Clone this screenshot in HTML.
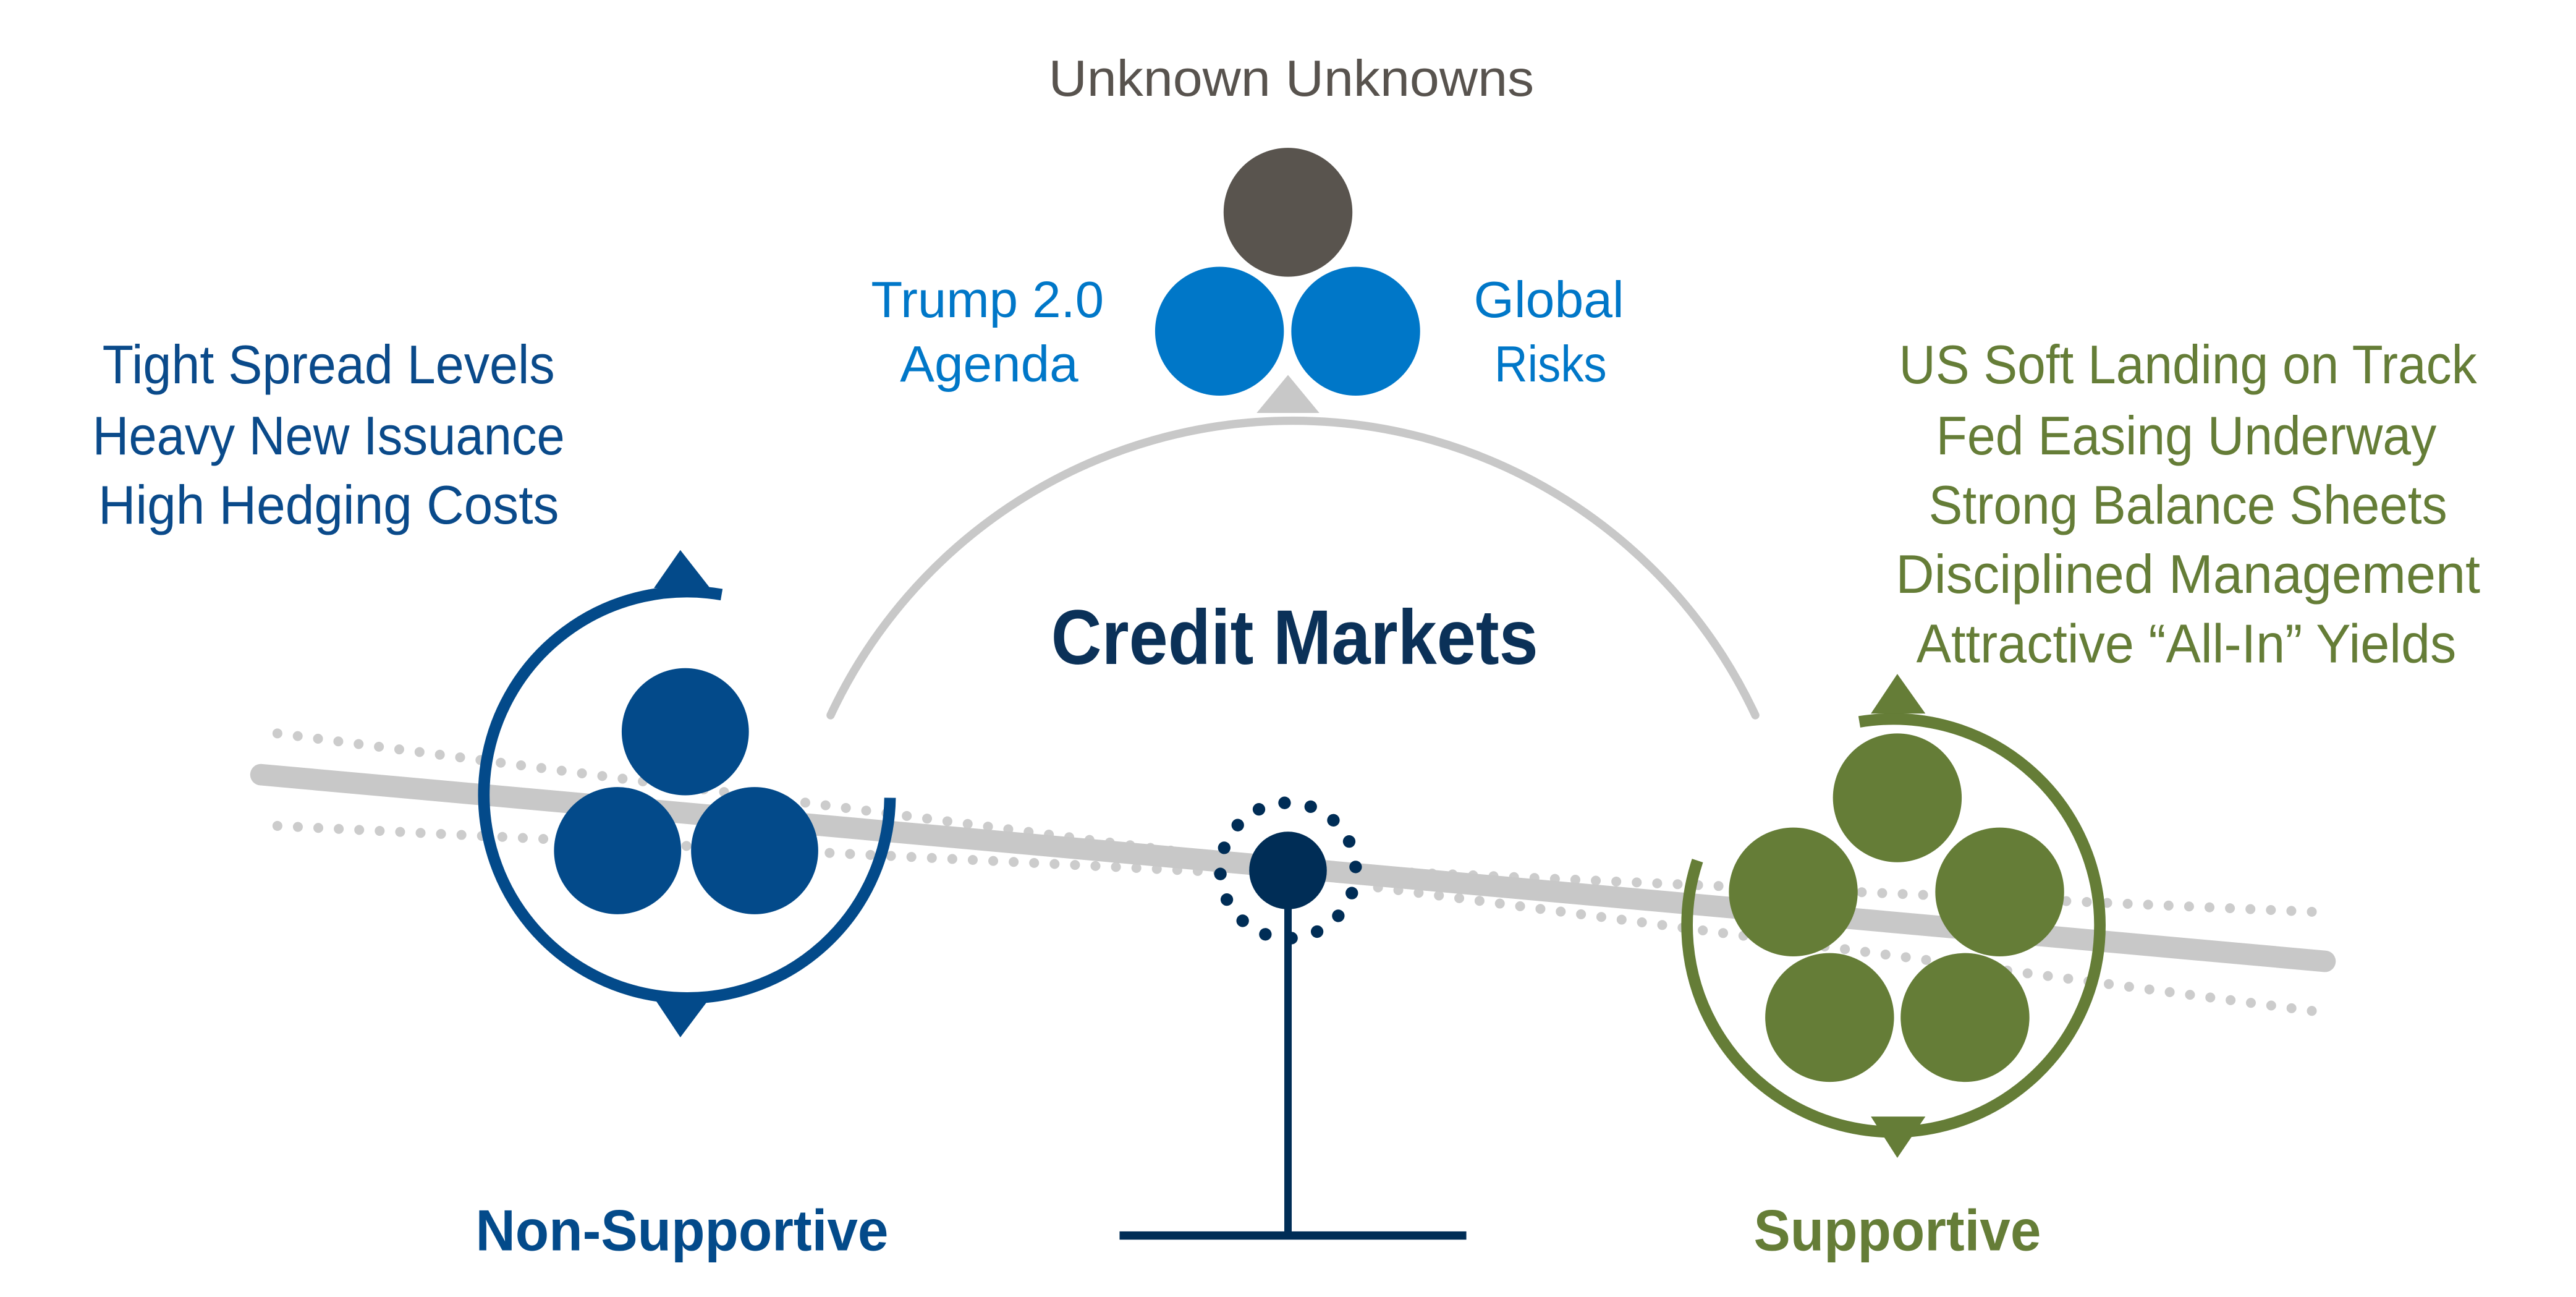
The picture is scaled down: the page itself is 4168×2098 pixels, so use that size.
<!DOCTYPE html>
<html><head><meta charset="utf-8"><style>
html,body{margin:0;padding:0;background:#fff}
svg{display:block}
text{font-family:"Liberation Sans",sans-serif}
</style></head><body>
<svg width="4168" height="2098" viewBox="0 0 1560 785.2" xmlns="http://www.w3.org/2000/svg">
<!-- top -->
<text x="782" y="58" font-size="31" fill="#58534e" text-anchor="middle" textLength="294" lengthAdjust="spacingAndGlyphs">Unknown Unknowns</text>
<circle cx="780" cy="128.5" r="39" fill="#59544e"/>
<circle cx="738.5" cy="200.5" r="39" fill="#0077c8"/>
<circle cx="821" cy="200.5" r="39" fill="#0077c8"/>
<text x="598" y="192" font-size="31" fill="#0077c8" text-anchor="middle" textLength="141" lengthAdjust="spacingAndGlyphs">Trump 2.0</text>
<text x="599" y="231" font-size="31" fill="#0077c8" text-anchor="middle" textLength="108" lengthAdjust="spacingAndGlyphs">Agenda</text>
<text x="938" y="192" font-size="31" fill="#0077c8" text-anchor="middle" textLength="91" lengthAdjust="spacingAndGlyphs">Global</text>
<text x="939" y="231" font-size="31" fill="#0077c8" text-anchor="middle" textLength="68" lengthAdjust="spacingAndGlyphs">Risks</text>
<polygon points="780,227 761,250 799,250" fill="#c8c8c8"/>
<path d="M503,433 A309,309 0 0 1 1063,433" fill="none" stroke="#c8c8c8" stroke-width="5" stroke-linecap="round"/>
<text x="784" y="402" font-size="47" font-weight="bold" fill="#0b3158" text-anchor="middle" textLength="295" lengthAdjust="spacingAndGlyphs">Credit Markets</text>
<!-- left text -->
<g font-size="33" fill="#0a4a8a" text-anchor="middle">
<text x="199" y="232" textLength="274" lengthAdjust="spacingAndGlyphs">Tight Spread Levels</text>
<text x="199" y="275" textLength="286" lengthAdjust="spacingAndGlyphs">Heavy New Issuance</text>
<text x="199" y="317" textLength="279" lengthAdjust="spacingAndGlyphs">High Hedging Costs</text>
</g>
<g font-size="33" fill="#657d37" text-anchor="middle">
<text x="1325" y="232" textLength="350" lengthAdjust="spacingAndGlyphs">US Soft Landing on Track</text>
<text x="1324" y="275" textLength="303" lengthAdjust="spacingAndGlyphs">Fed Easing Underway</text>
<text x="1325" y="317" textLength="314" lengthAdjust="spacingAndGlyphs">Strong Balance Sheets</text>
<text x="1325" y="359" textLength="354" lengthAdjust="spacingAndGlyphs">Disciplined Management</text>
<text x="1324" y="401" textLength="327" lengthAdjust="spacingAndGlyphs">Attractive “All-In” Yields</text>
</g>
<!-- dotted motion lines -->
<g stroke="#cccccc" stroke-width="6" stroke-linecap="round" stroke-dasharray="0 12.4" fill="none">
<line x1="168" y1="444" x2="740" y2="519"/>
<line x1="168" y1="500" x2="740" y2="528"/>
<line x1="1400" y1="552" x2="825" y2="527"/>
<line x1="1400" y1="612" x2="825" y2="536"/>
</g>
<!-- beam -->
<line x1="158" y1="469" x2="1408" y2="582" stroke="#c8c8c8" stroke-width="13" stroke-linecap="round"/>
<!-- left group -->
<circle cx="415" cy="443" r="38.5" fill="#034a8a"/>
<circle cx="374" cy="515" r="38.5" fill="#034a8a"/>
<circle cx="457" cy="515" r="38.5" fill="#034a8a"/>
<path d="M437,360 A123,123 0 1 0 539,483" fill="none" stroke="#034a8a" stroke-width="7"/>
<polygon points="412,333 396,356 430,356" fill="#034a8a"/>
<polygon points="412,628 396,604 430,604" fill="#034a8a"/>
<!-- right group -->
<circle cx="1149" cy="483" r="39" fill="#657d37"/>
<circle cx="1086" cy="540" r="39" fill="#657d37"/>
<circle cx="1211" cy="540" r="39" fill="#657d37"/>
<circle cx="1108" cy="616" r="39" fill="#657d37"/>
<circle cx="1190" cy="616" r="39" fill="#657d37"/>
<path d="M1126,437 A125,125 0 1 1 1028,521" fill="none" stroke="#657d37" stroke-width="7"/>
<polygon points="1149,408 1133,432 1166,432" fill="#657d37"/>
<polygon points="1149,701 1133,676 1166,676" fill="#657d37"/>
<!-- pivot -->
<line x1="780" y1="527" x2="780" y2="748" stroke="#002d56" stroke-width="4.5"/>
<line x1="678" y1="748" x2="888" y2="748" stroke="#002d56" stroke-width="5"/>
<circle cx="780" cy="527" r="23.5" fill="#002d56"/>
<circle cx="780" cy="527" r="41" fill="none" stroke="#002d56" stroke-width="7.6" stroke-linecap="round" stroke-dasharray="0 16.1" transform="rotate(-3 780 527)"/>
<text x="413" y="757" font-size="35" font-weight="bold" fill="#034a8a" text-anchor="middle" textLength="250" lengthAdjust="spacingAndGlyphs">Non-Supportive</text>
<text x="1149" y="757" font-size="35" font-weight="bold" fill="#657d37" text-anchor="middle" textLength="174" lengthAdjust="spacingAndGlyphs">Supportive</text>
</svg>
</body></html>
